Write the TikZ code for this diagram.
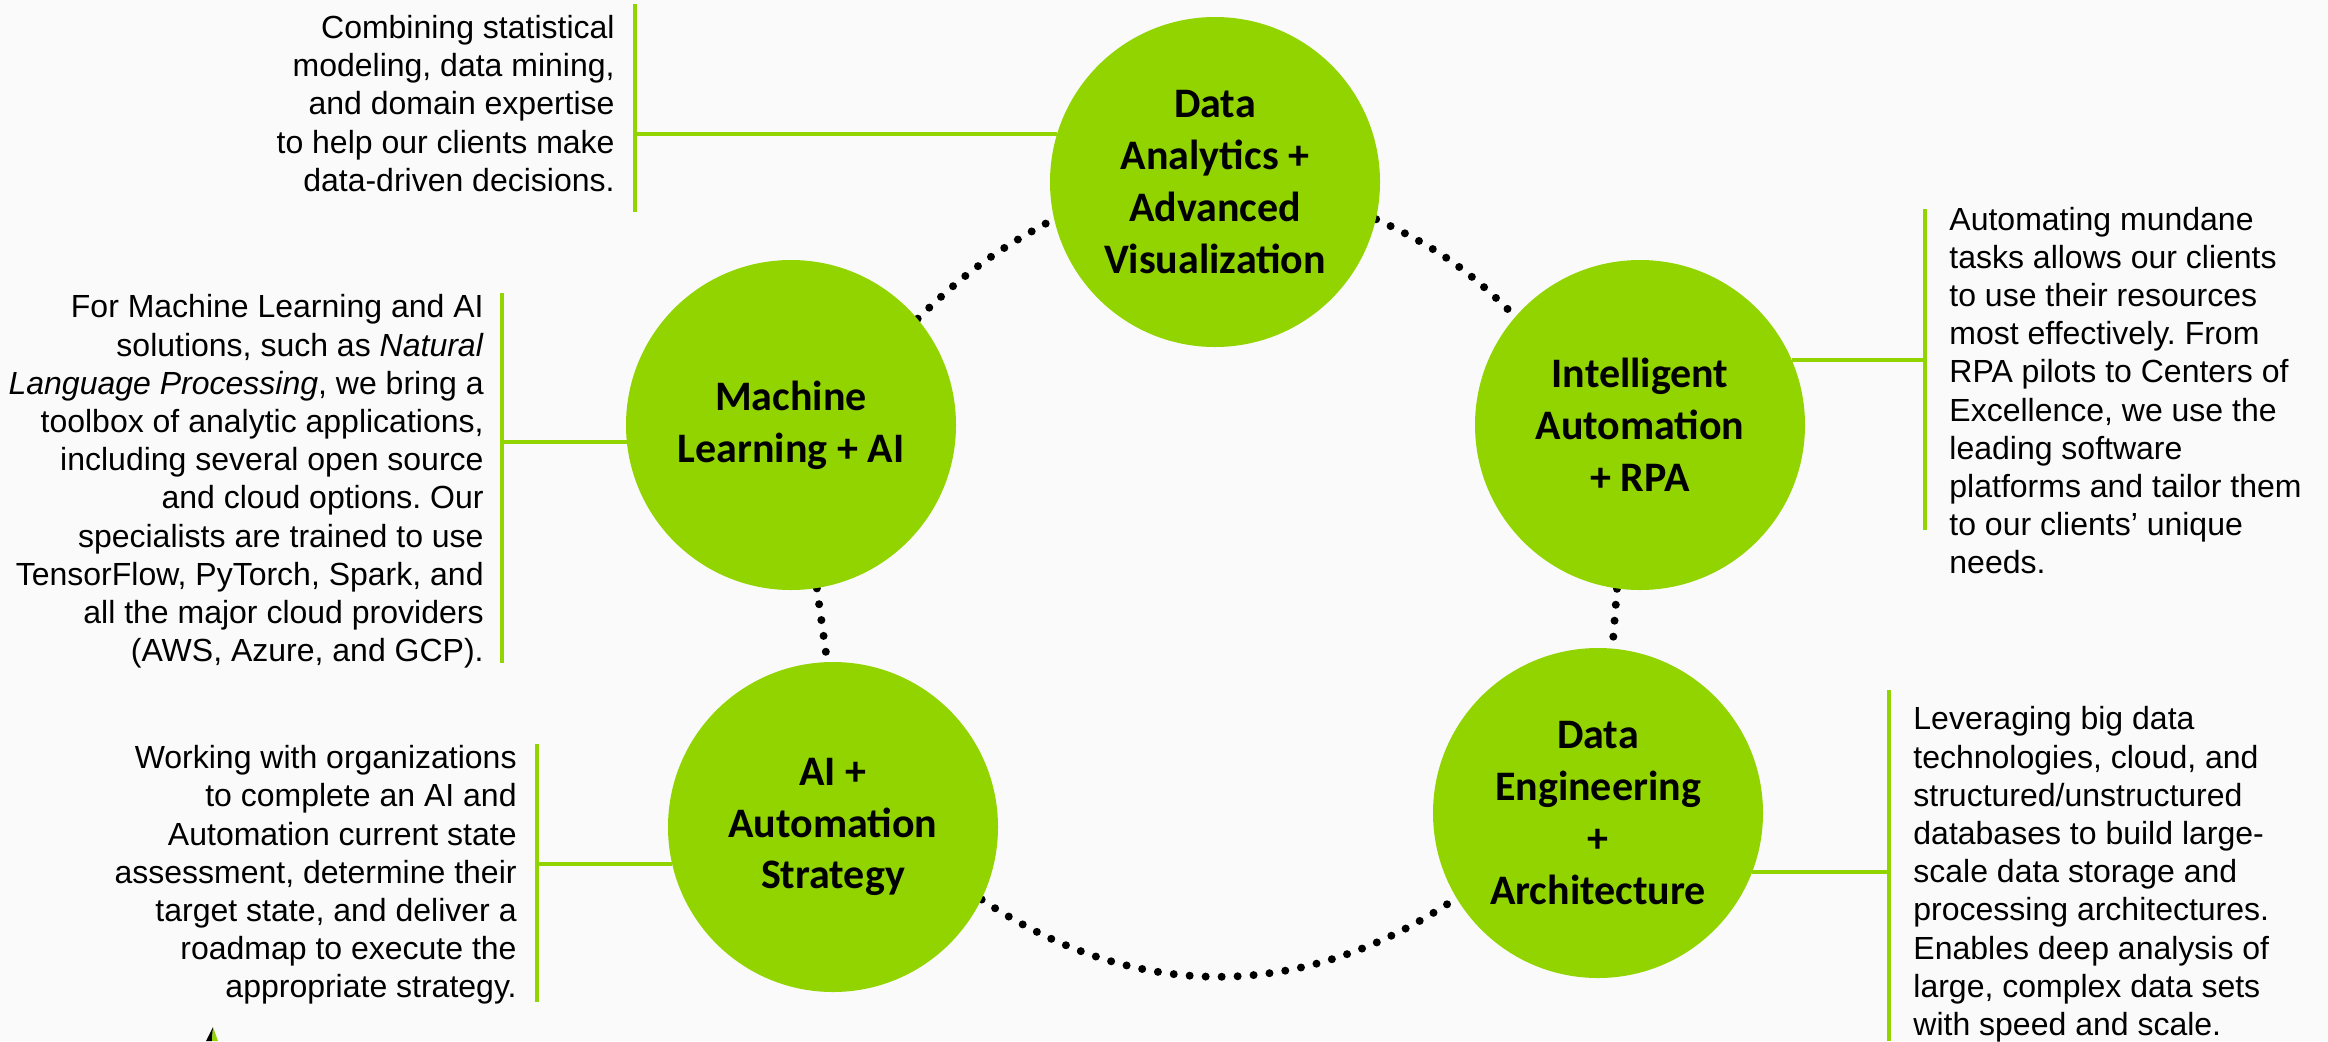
\documentclass[tikz,border=0pt]{standalone}
\usepackage{fontspec}
\setmainfont{Liberation Sans}
\newfontfamily\calibri{Carlito}
\usetikzlibrary{positioning,backgrounds}
\frenchspacing

\definecolor{leaf}{RGB}{146,212,0}
\definecolor{paper}{RGB}{250,250,250}

\tikzset{
  hub/.style={circle, fill=leaf, minimum size=165pt, inner sep=0pt,
              align=center, font=\calibri\bfseries\fontsize{21}{25.9}\selectfont},
  desc/.style={inner sep=0pt, font=\fontsize{16}{19.1}\selectfont},
  bar/.style={draw=leaf, line width=2pt},
  dots/.style={line width=4pt, line cap=round, dash pattern=on 0pt off 8pt},
}

\begin{document}
\begin{tikzpicture}[x=0.5pt,y=-0.5pt]
  \useasboundingbox (0,0) rectangle (2328,1041);

  % the five service circles
  \node[hub] (da) at (1215,182) {Data\\Analytics +\\Advanced\\Visualization};
  \node[hub] (ml) at (791,425)  {Machine\\Learning + AI};
  \node[hub] (ia) at (1640,425) {Intelligent\\Automation\\+ RPA};
  \node[hub] (ai) at (833,827)  {AI +\\Automation\\Strategy};
  \node[hub] (de) at (1598,813) {Data\\Engineering\\+\\Architecture};

  % bars beside the descriptions
  \coordinate (dabar) at (635,103.5);
  \coordinate (mlbar) at (502,481.5);
  \coordinate (aibar) at (537,875);
  \coordinate (iabar) at (1925,390.5);
  \coordinate (debar) at (1889,874.5);

  \node[desc, align=right, left=10pt of dabar] (datxt)
    {Combining statistical\\
     modeling, data mining,\\
     and domain expertise\\
     to help our clients make\\
     data-driven decisions.};
  \node[desc, align=right, left=9pt of mlbar] (mltxt)
    {For Machine Learning and AI\\
     solutions, such as \textit{Natural}\\
     \textit{Language Processing}, we bring a\\
     toolbox of analytic applications,\\
     including several open source\\
     and cloud options. Our\\
     specialists are trained to use\\
     TensorFlow, PyTorch, Spark, and\\
     all the major cloud providers\\
     (AWS, Azure, and GCP).};
  \node[desc, align=right, left=10pt of aibar] (aitxt)
    {Working with organizations\\
     to complete an AI and\\
     Automation current state\\
     assessment, determine their\\
     target state, and deliver a\\
     roadmap to execute the\\
     appropriate strategy.};
  \node[desc, align=left, right=12pt of iabar] (iatxt)
    {Automating mundane\\
     tasks allows our clients\\
     to use their resources\\
     most effectively. From\\
     RPA pilots to Centers of\\
     Excellence, we use the\\
     leading software\\
     platforms and tailor them\\
     to our clients’ unique\\
     needs.};
  \node[desc, align=left, right=12pt of debar] (detxt)
    {Leveraging big data\\
     technologies, cloud, and\\
     structured/unstructured\\
     databases to build large-\\
     scale data storage and\\
     processing architectures.\\
     Enables deep analysis of\\
     large, complex data sets\\
     with speed and scale.};

  \begin{scope}[on background layer]
    \fill[paper] (0,0) rectangle (2328,1041);
    % vertical bars
    \draw[bar] (635,4)    -- (635,212);
    \draw[bar] (502,293)  -- (502,663);
    \draw[bar] (537,744)  -- (537,1002);
    \draw[bar] (1925,209) -- (1925,530);
    \draw[bar] (1889,690) -- (1889,1041);
    % stems from circle to bar
    \draw[bar] (da.163) -- (da.163 -| dabar);
    \draw[bar] (ml.186) -- (ml.186 -| mlbar);
    \draw[bar] (ai.193) -- (ai.193 -| aibar);
    \draw[bar] (ia.23)  -- (ia.23 -| iabar);
    \draw[bar] (de.339) -- (de.339 -| debar);
    % dotted ring
    \draw[dots] (ml.40)    to[bend left=8]   (da.193);
    \draw[dots] (da.347)   to[bend left=10]  (ia.139);
    \draw[dots] (ml.279)   --                (ai.92);
    \draw[dots] (ia.262)   --                (de.85);
    \draw[dots] (ai.334)   to[bend right=34] (de.211);
  \end{scope}

  % corner mark
  \fill[black] (206,1041) -- (213,1027) -- (212,1041) -- cycle;
  \fill[leaf]  (212,1041) -- (213,1027) -- (218,1041) -- cycle;
\end{tikzpicture}
\end{document}
